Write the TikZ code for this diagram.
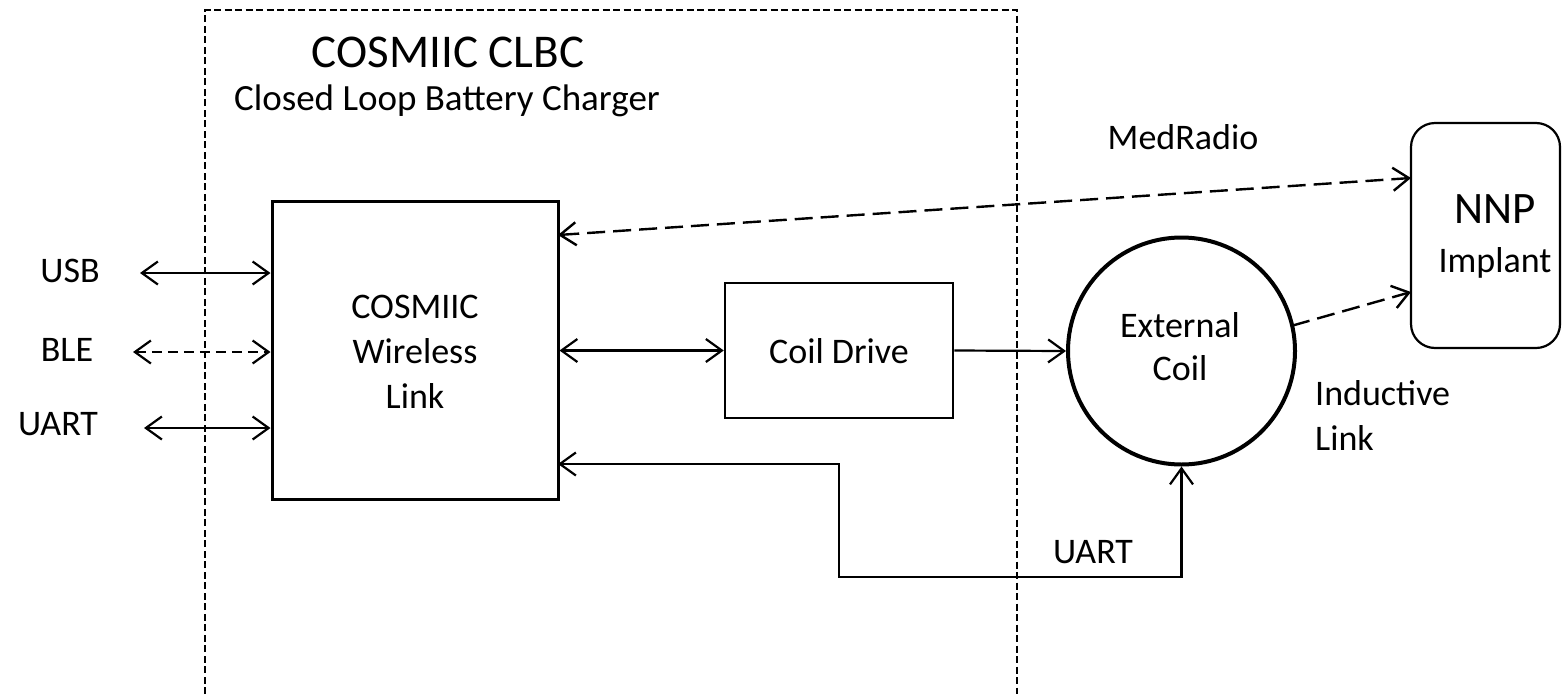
\documentclass[tikz,border=0pt]{standalone}
\usepackage{fontspec}
\setmainfont{Carlito}
\usetikzlibrary{arrows.meta,calc}
\begin{document}
\begin{tikzpicture}[x=1pt,y=-1pt,
  >={Straight Barb[length=16pt,width=23pt]},
  lbl/.style={inner sep=0pt,anchor=base,font=\fontsize{36}{43}\selectfont},
  blk/.style={draw,inner sep=0pt},
  link/.style={line width=2.2pt},
  dlink/.style={line width=2.4pt,dash pattern=on 18pt off 8pt},
  frame/.style={line width=2pt,dash pattern=on 7pt off 3.5pt}]
\useasboundingbox (0,0) rectangle (1562,694);
\fill[white] (0,0) rectangle (1562,694);

% dashed enclosure
\draw[frame] (205,694) -- (205,10) -- (1017,10) -- (1017,694);
\node[lbl,font=\fontsize{47}{56}\selectfont] (title) at (448,67) {COSMIIC CLBC};
\node[lbl,font=\fontsize{37}{44}\selectfont] (sub) at (447,110) {Closed Loop Battery Charger};

% blocks
\node[blk,line width=3pt,minimum width=286pt,minimum height=298pt] (wl) at (415,350.5) {};
\node[lbl] (wl1) at (415,318) {COSMIIC};
\node[lbl] (wl2) at (415,363) {Wireless};
\node[lbl] (wl3) at (415,408) {Link};

\node[blk,line width=2.5pt,minimum width=228pt,minimum height=135pt] (cd) at (839,350.5) {};
\node[lbl] (cdt) at (839,363) {Coil Drive};

\node[blk,circle,line width=4pt,minimum size=227pt] (coil) at (1181.5,351) {};
\node[lbl] (coil1) at (1180,337) {External};
\node[lbl] (coil2) at (1180,380) {Coil};

\node[blk,line width=2.2pt,rounded corners=24pt,minimum width=149pt,minimum height=225pt] (nnp) at (1485.5,235.5) {};
\node[lbl,font=\fontsize{45}{54}\selectfont] (nnp1) at (1495,223) {NNP};
\node[lbl] (nnp2) at (1495,272) {Implant};

% labels
\node[lbl] (usb) at (70,282) {USB};
\node[lbl] (ble) at (67,361) {BLE};
\node[lbl] (uartL) at (58,435) {UART};
\node[lbl] (med) at (1183,149) {MedRadio};
\node[lbl,anchor=base west] (ind1) at (1315,405) {Inductive};
\node[lbl,anchor=base west] (ind2) at (1315,450) {Link};
\node[lbl] (uartR) at (1093,563) {UART};

% free ends and bends
\coordinate (usbE) at (140,273);
\coordinate (bleE) at (133,352);
\coordinate (uartE) at (144,428);
\coordinate (mrA) at (558,235);
\coordinate (mrB) at (1411,178);
\coordinate (indA) at ($(coil.center)+(12.9:113.5pt)$);
\coordinate (indB) at (1411,292);
\coordinate (u0) at (558,464);
\coordinate (u1) at (839,464);
\coordinate (u2) at (839,577);
\coordinate (u3) at (1181.5,577);

% connectors
\draw[link,<->] (usbE) -- (wl.west |- usbE);
\draw[link,<->,dash pattern=on 10pt off 6pt] (bleE) -- (wl.west |- bleE);
\draw[link,<->] (uartE) -- (wl.west |- uartE);
\draw[dlink,<->] (mrA) -- (mrB);
\draw[link,<->] (wl.east |- cd.west) -- (cd.west);
\draw[link,->] (cd.east) -- (coil.west);
\draw[dlink,->] (indA) -- (indB);
\draw[link,<->] (u0) -- (u1) -- (u2) -- (u3) -- (coil.south);
\end{tikzpicture}
\end{document}
